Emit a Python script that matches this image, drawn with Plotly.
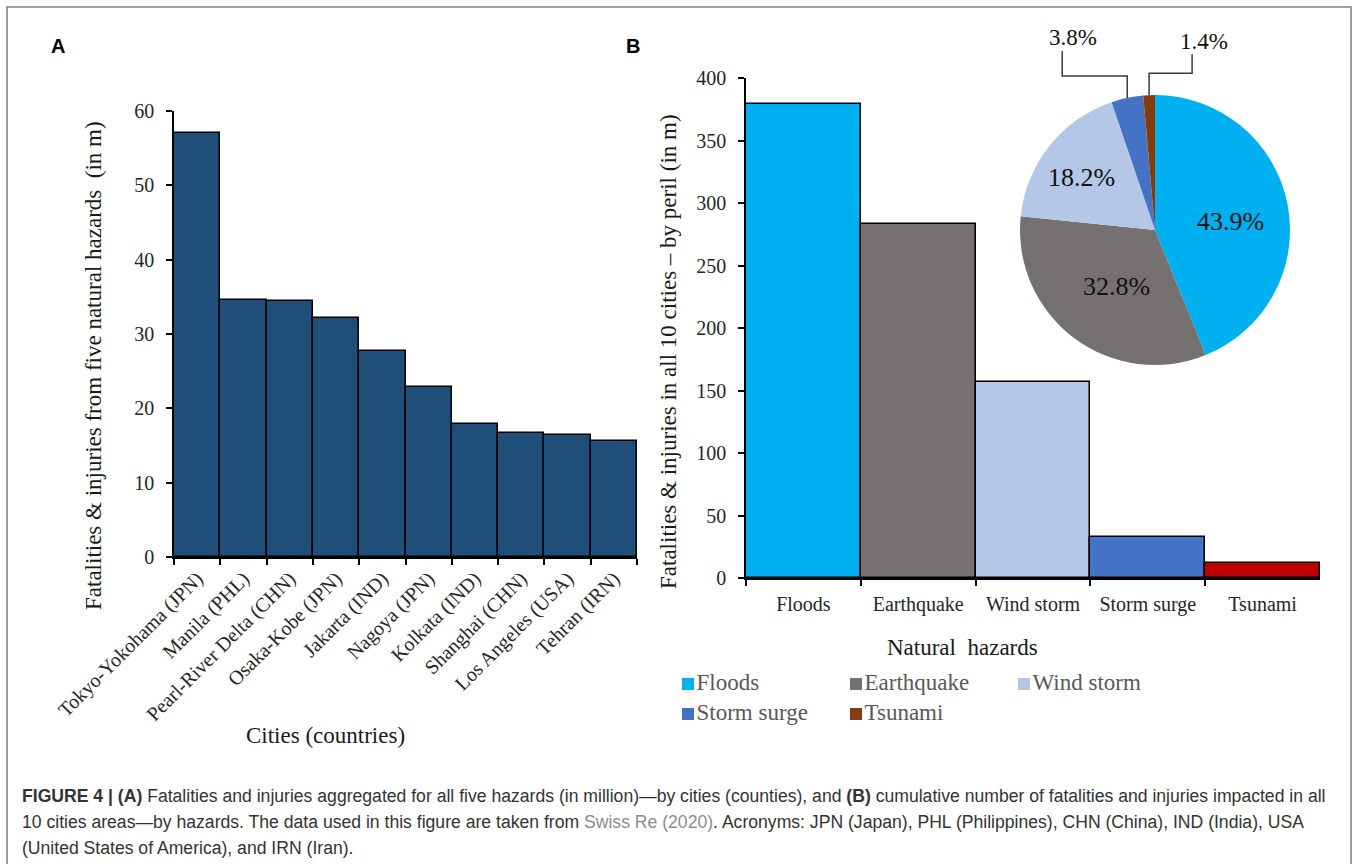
import math
import plotly.graph_objects as go

W, H = 1358, 864

# Panel A: fatalities & injuries aggregated over five hazards, by city (million)
cities = ["Tokyo-Yokohama (JPN)", "Manila (PHL)", "Pearl-River Delta (CHN)", "Osaka-Kobe (JPN)",
          "Jakarta (IND)", "Nagoya (JPN)", "Kolkata (IND)", "Shanghai (CHN)",
          "Los Angeles (USA)", "Tehran (IRN)"]
city_totals = [57.1, 34.6, 34.5, 32.1, 27.7, 22.9, 17.9, 16.7, 16.4, 15.6]
city_ticks = [0, 10, 20, 30, 40, 50, 60]

# Panel B: totals over all 10 cities, by peril (million)
hazards = ["Floods", "Earthquake", "Wind storm", "Storm surge", "Tsunami"]
hazard_totals = [379, 283, 157, 33, 12]
hazard_ticks = [0, 50, 100, 150, 200, 250, 300, 350, 400]

bar_colors = ["#00B0F0", "#767171", "#B4C7E7", "#4472C4", "#C00000"]
pie_colors = ["#00B0F0", "#767171", "#B4C7E7", "#4472C4", "#843C0C"]

SERIF = "Liberation Serif"
SANS = "Liberation Sans"


def px(x):
    return x / W


def py(y):
    return 1 - y / H


def note(x, y, text, font, **kw):
    """Text placed in pixel units, centred on (x, y) unless anchors are given."""
    d = dict(x=px(x), y=py(y), xref="paper", yref="paper", text=text, showarrow=False,
             font=font, xanchor="center", yanchor="middle")
    d.update(kw)
    return d


fig = go.Figure()

# ---- panel A bars
fig.add_trace(go.Bar(
    x=cities, y=city_totals, width=1,
    marker=dict(color="#1F4E79", line=dict(color="black", width=1.5)),
    xaxis="x", yaxis="y", showlegend=False, hoverinfo="x+y"))

# ---- panel B bars
fig.add_trace(go.Bar(
    x=hazards, y=hazard_totals, width=1,
    marker=dict(color=bar_colors, line=dict(color="black", width=1.5)),
    xaxis="x2", yaxis="y2", showlegend=False, hoverinfo="x+y"))

# ---- inset pie (shares of the hazard totals)
pie_box = dict(x0=1020, x1=1290, y0=95, y1=365)
fig.add_trace(go.Pie(
    labels=hazards, values=hazard_totals, sort=False, direction="clockwise", rotation=0,
    marker=dict(colors=pie_colors, line=dict(width=0)), textinfo="none",
    domain=dict(x=[px(pie_box["x0"]), px(pie_box["x1"])],
                y=[py(pie_box["y1"]), py(pie_box["y0"])]),
    showlegend=False, hoverinfo="label+percent"))

cx = (pie_box["x0"] + pie_box["x1"]) / 2
cy = (pie_box["y0"] + pie_box["y1"]) / 2
R = min(pie_box["x1"] - pie_box["x0"], pie_box["y1"] - pie_box["y0"]) / 2
total = sum(hazard_totals)

annotations = []
shapes = []

# slice labels: inside ones sit along the mid-angle, small slices get elbow callouts
inside_r = {0: 0.57, 1: 0.47, 2: 0.70}
inside_drop = 6  # digits sit high in their text box; nudge them onto the radial point
callouts = {3: dict(dy=-22, lead_dx=-65, lab_dx=-54, lab_dy=-60),
            4: dict(dy=-22, lead_dx=43, lab_dx=55, lab_dy=-54)}
cum = 0
for i, v in enumerate(hazard_totals):
    share = v / total
    mid = (cum + share / 2) * 2 * math.pi
    cum += share
    label = f"{share * 100:.1f}%"
    if i in inside_r:
        f = inside_r[i]
        tx = cx + f * R * math.sin(mid)
        ty = cy - f * R * math.cos(mid) + inside_drop
        annotations.append(note(tx, ty, label, dict(family=SERIF, size=26, color="#111")))
    else:
        c = callouts[i]
        ex = cx + R * math.sin(mid)
        ey = cy - R * math.cos(mid)
        elbow_y = ey + c["dy"]
        lead_x = ex + c["lead_dx"]
        lab_x, lab_y = ex + c["lab_dx"], ey + c["lab_dy"]
        path = (f"M{px(ex)},{py(ey)} L{px(ex)},{py(elbow_y)} "
                f"L{px(lead_x)},{py(elbow_y)} L{px(lead_x)},{py(lab_y + 13)}")
        shapes.append(dict(type="path", xref="paper", yref="paper", path=path,
                           line=dict(color="#3a3a3a", width=1.5)))
        annotations.append(note(lab_x, lab_y, label, dict(family=SERIF, size=23, color="#111")))

# ---- legend for the perils (pie colours)
leg_x0, leg_dx, leg_y0, leg_dy = 688, 168, 684, 30
fig.add_trace(go.Scatter(
    x=[leg_x0 + leg_dx * (i % 3) for i in range(len(hazards))],
    y=[leg_y0 + leg_dy * (i // 3) for i in range(len(hazards))],
    mode="markers+text", text=hazards, textposition="middle right",
    marker=dict(symbol="square", size=12, color=pie_colors, line=dict(width=0)),
    textfont=dict(family=SERIF, size=23, color="#595959"),
    xaxis="x3", yaxis="y3", showlegend=False, hoverinfo="skip", cliponaxis=False))

tick_font = dict(family=SERIF, size=20, color="#262626")
title_font = dict(family=SERIF, size=23, color="#1a1a1a")

common_x = dict(type="category", tickson="boundaries", ticks="outside", ticklen=6,
                tickcolor="black", tickwidth=1.5, showline=True, linecolor="black", linewidth=2,
                showgrid=False, zeroline=False, tickfont=tick_font, fixedrange=True,
                automargin=False)
common_y = dict(ticks="outside", ticklen=6, tickcolor="black", tickwidth=1.5, showline=True,
                linecolor="black", linewidth=1.5, showgrid=False, zeroline=False,
                tickfont=tick_font, ticklabelstandoff=8, fixedrange=True, automargin=False)

# axis titles and panel letters
annotations += [
    note(93, 366, "Fatalities &amp; injuries from five natural hazards  (in m)", title_font, textangle=-90),
    note(325, 735, "Cities (countries)", title_font),
    note(668, 352, "Fatalities &amp; injuries in all 10 cities – by peril (in m)", title_font, textangle=-90),
    note(962, 647, "Natural  hazards", title_font),
    note(58, 46, "<b>A</b>", dict(family=SANS, size=20, color="black")),
    note(633, 46, "<b>B</b>", dict(family=SANS, size=20, color="black")),
]

# caption
caption_lines = [
    "<b>FIGURE 4 | (A)</b> Fatalities and injuries aggregated for all five hazards (in million)—by cities "
    "(counties), and <b>(B)</b> cumulative number of fatalities and injuries impacted in all",
    "10 cities areas—by hazards. The data used in this figure are taken from "
    "<span style='color:#8c8c8c'>Swiss Re (2020)</span>. Acronyms: JPN (Japan), PHL (Philippines), "
    "CHN (China), IND (India), USA",
    "(United States of America), and IRN (Iran).",
]
for k, line in enumerate(caption_lines):
    annotations.append(note(20, 796 + 26 * k, line, dict(family=SANS, size=17.6, color="#333333"),
                            xanchor="left", align="left"))

# outer frame (its lower edge runs off the bottom of the page)
shapes.append(dict(type="rect", xref="paper", yref="paper", x0=px(7), x1=px(1351), y0=py(875), y1=py(7),
                   line=dict(color="#808080", width=1.5)))

fig.update_layout(
    width=W, height=H, margin=dict(l=0, r=0, t=0, b=0, autoexpand=False),
    paper_bgcolor="white", plot_bgcolor="rgba(0,0,0,0)", bargap=0,
    xaxis=dict(domain=[px(174), px(637)], anchor="y", range=[-0.5, len(cities) - 0.5],
               tickangle=-45, **common_x),
    yaxis=dict(domain=[py(557), py(111)], anchor="x", range=[0, 60], tickvals=city_ticks, **common_y),
    xaxis2=dict(domain=[px(746), px(1320)], anchor="y2", range=[-0.5, len(hazards) - 0.5],
                tickangle=0, ticklabelstandoff=7, **common_x),
    yaxis2=dict(domain=[py(578), py(78)], anchor="x2", range=[0, 400], tickvals=hazard_ticks, **common_y),
    xaxis3=dict(domain=[0, 1], anchor="y3", range=[0, W], visible=False, fixedrange=True),
    yaxis3=dict(domain=[0, 1], anchor="x3", range=[H, 0], visible=False, fixedrange=True),
    annotations=annotations, shapes=shapes,
)

fig.write_html("out.html")
